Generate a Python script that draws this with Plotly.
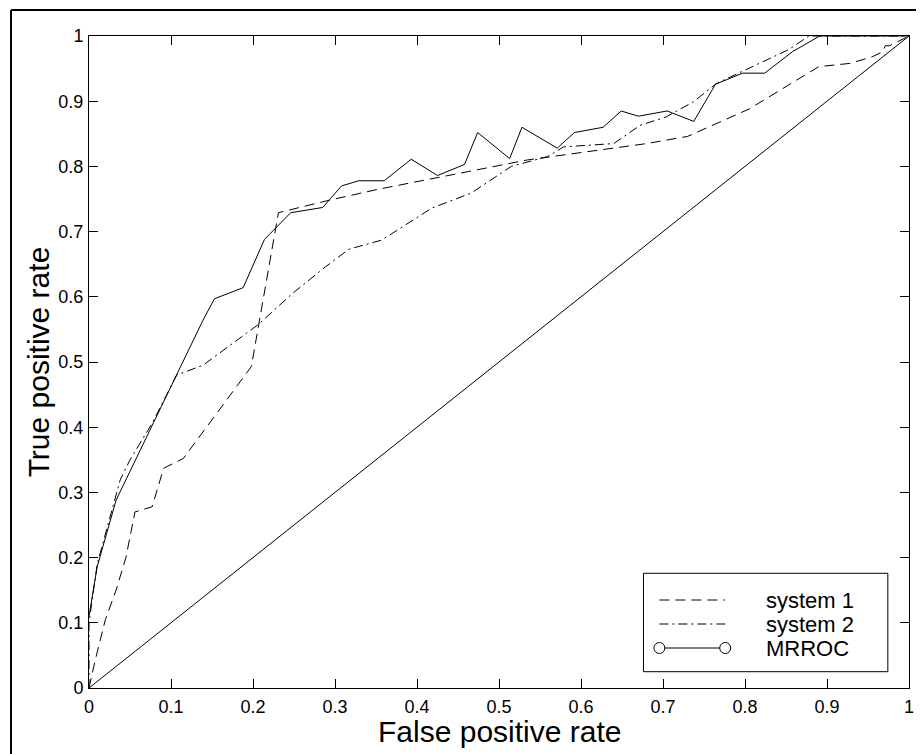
import plotly.graph_objects as go

# ---- data ----
sys1_fpr = [0.0, 0.008, 0.02, 0.033, 0.045, 0.056, 0.077, 0.091, 0.115, 0.198, 0.231,
            0.2925, 0.353, 0.535, 0.68, 0.73, 0.805, 0.89, 0.928, 0.955, 0.968, 0.971, 0.976, 1.0]
sys1_tpr = [0.0, 0.045, 0.105, 0.15, 0.2, 0.27, 0.278, 0.337, 0.352, 0.493, 0.729,
            0.748, 0.765, 0.81, 0.835, 0.846, 0.888, 0.953, 0.958, 0.968, 0.976, 0.985, 0.985, 1.0]

sys2_fpr = [0.0, 0.0, 0.01, 0.026, 0.038, 0.05, 0.077, 0.107, 0.139, 0.206, 0.248, 0.2885,
            0.317, 0.357, 0.418, 0.466, 0.515, 0.559, 0.579, 0.64, 0.672, 0.704, 0.737,
            0.765, 0.853, 0.878, 1.0]
sys2_tpr = [0.0, 0.1, 0.19, 0.263, 0.319, 0.35, 0.406, 0.48, 0.495, 0.557, 0.605, 0.646,
            0.673, 0.687, 0.736, 0.759, 0.80, 0.815, 0.830, 0.835, 0.863, 0.876, 0.899,
            0.927, 0.979, 1.0, 1.0]

mrroc_fpr = [0.0, 0.01, 0.033, 0.139, 0.153, 0.188, 0.214, 0.246, 0.285, 0.308, 0.329,
             0.36, 0.393, 0.425, 0.458, 0.474, 0.513, 0.528, 0.571, 0.592, 0.627, 0.649,
             0.670, 0.705, 0.7375, 0.764, 0.797, 0.824, 0.858, 0.891, 1.0]
mrroc_tpr = [0.11, 0.186, 0.288, 0.564, 0.597, 0.614, 0.688, 0.729, 0.737, 0.770, 0.778,
             0.778, 0.811, 0.786, 0.803, 0.852, 0.812, 0.860, 0.828, 0.852, 0.860, 0.885,
             0.877, 0.885, 0.869, 0.926, 0.943, 0.943, 0.976, 1.0, 1.0]

chance_x = [0.0, 1.0]
chance_y = [0.0, 1.0]

tick_vals = [0, 0.1, 0.2, 0.3, 0.4, 0.5, 0.6, 0.7, 0.8, 0.9, 1]
tick_text = ["0", "0.1", "0.2", "0.3", "0.4", "0.5", "0.6", "0.7", "0.8", "0.9", "1"]

legend_labels = ["system 1", "system 2", "MRROC"]

# ---- layout geometry (page pixels; the page body has an 8px margin) ----
OFF = 8
W, H = 924 - OFF, 754 - OFF
L, R, T, B = 88.5, 914, 36, 688   # plot area in page pixels


def px(x):
    return (x - L) / (R - L)


def py(y):
    return (B - y) / (B - T)


FONT = "Liberation Sans, Arial, sans-serif"
DASH1 = "10px,6px"
DASH2 = "9px,4px,2px,4px"

fig = go.Figure()
fig.add_trace(go.Scatter(x=sys1_fpr, y=sys1_tpr, mode="lines",
                         line=dict(color="black", width=1, dash=DASH1),
                         name=legend_labels[0], showlegend=False))
fig.add_trace(go.Scatter(x=sys2_fpr, y=sys2_tpr, mode="lines",
                         line=dict(color="black", width=1, dash=DASH2),
                         name=legend_labels[1], showlegend=False))
fig.add_trace(go.Scatter(x=mrroc_fpr, y=mrroc_tpr, mode="lines",
                         line=dict(color="black", width=1),
                         name=legend_labels[2], showlegend=False))
fig.add_trace(go.Scatter(x=chance_x, y=chance_y, mode="lines",
                         line=dict(color="black", width=1),
                         showlegend=False, hoverinfo="skip"))

axis_common = dict(range=[0, 1], tickvals=tick_vals, ticktext=tick_text,
                   ticks="inside", ticklen=9, tickwidth=1, tickcolor="black",
                   showline=True, linecolor="black", linewidth=1, mirror="ticks",
                   showgrid=False, zeroline=False,
                   tickfont=dict(family=FONT, size=18, color="black"))

fig.update_layout(
    width=W, height=H,
    margin=dict(l=L - OFF, r=W - (R - OFF), t=T - OFF, b=H - (B - OFF), pad=0),
    paper_bgcolor="white", plot_bgcolor="white",
    xaxis=dict(**axis_common, ticklabelstandoff=2),
    yaxis=dict(**axis_common, ticklabelstandoff=1),
    showlegend=False,
)

shapes = []
# outer frame (left and top edges visible)
shapes.append(dict(type="line", xref="paper", yref="paper",
                   x0=px(10), x1=px(10), y0=py(10), y1=py(770),
                   line=dict(color="black", width=2)))
shapes.append(dict(type="line", xref="paper", yref="paper",
                   x0=px(10), x1=px(940), y0=py(10), y1=py(10),
                   line=dict(color="black", width=2)))
# legend box
shapes.append(dict(type="rect", xref="paper", yref="paper",
                   x0=px(646.7), x1=px(892.7), y0=py(671.7), y1=py(573.3),
                   line=dict(color="black", width=1), fillcolor="white", layer="above"))
rows = [600, 624, 648]
dashes = [DASH1, DASH2, "solid"]
for r, d in zip(rows, dashes):
    shapes.append(dict(type="line", xref="paper", yref="paper",
                       x0=px(662.7), x1=px(729), y0=py(r), y1=py(r),
                       line=dict(color="black", width=1, dash=d), layer="above"))
for cx in [662.7, 729]:
    shapes.append(dict(type="circle", xref="paper", yref="paper",
                       xsizemode="pixel", ysizemode="pixel",
                       xanchor=px(cx), yanchor=py(648),
                       x0=-5.5, x1=5.5, y0=-5.5, y1=5.5,
                       line=dict(color="black", width=1), fillcolor="white", layer="above"))
fig.update_layout(shapes=shapes)

annotations = []
for r, lab in zip(rows, legend_labels):
    annotations.append(dict(xref="paper", yref="paper", x=px(768), y=py(r),
                            xanchor="left", yanchor="middle", showarrow=False,
                            text=lab, font=dict(family=FONT, size=22, color="black")))
annotations.append(dict(xref="paper", yref="paper", x=0.5, y=py(731),
                        xanchor="center", yanchor="middle", showarrow=False,
                        text="False positive rate",
                        font=dict(family=FONT, size=30, color="black")))
annotations.append(dict(xref="paper", yref="paper", x=px(37.5), y=0.5,
                        xanchor="center", yanchor="middle", showarrow=False,
                        textangle=-90, text="True positive rate",
                        font=dict(family=FONT, size=30, color="black")))
fig.update_layout(annotations=annotations)

fig.write_html("out.html")
